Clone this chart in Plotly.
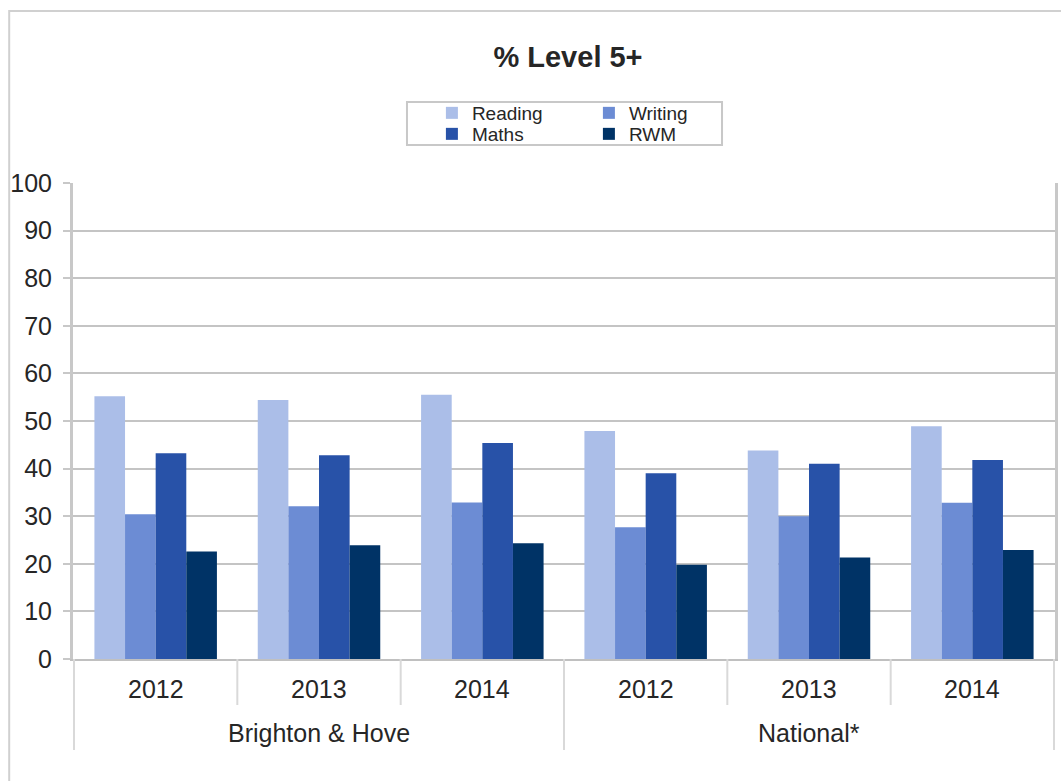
import plotly.graph_objects as go

groups = ["Brighton & Hove"] * 3 + ["National*"] * 3
years = ["2012", "2013", "2014", "2012", "2013", "2014"]

reading = [55.2, 54.4, 55.5, 47.9, 43.8, 48.9]
writing = [30.4, 32.1, 32.9, 27.7, 30.0, 32.8]
maths = [43.2, 42.8, 45.4, 39.0, 41.0, 41.8]
rwm = [22.6, 23.9, 24.3, 19.8, 21.3, 22.9]

series = [
    ("Reading", reading, "#abbee8", "legend"),
    ("Writing", writing, "#6c8cd4", "legend"),
    ("Maths", maths, "#2852a8", "legend2"),
    ("RWM", rwm, "#003366", "legend2"),
]

FONT = "Liberation Sans, Arial, sans-serif"
TXT = "#262626"
W, H = 1061, 781
L, R, T, B = 73, 3, 183, 122
pw = W - L - R
ph = H - T - B

def px(x):
    return (x - L) / pw

def py(y):
    return (H - B - y) / ph

fig = go.Figure()
for name, vals, col, lg in series:
    fig.add_trace(go.Bar(
        x=[groups, years], y=vals, name=name,
        marker=dict(color=col, line=dict(width=0)),
        legend=lg,
    ))

shapes = []
# outer chart border
shapes.append(dict(type="rect", xref="paper", yref="paper",
                   x0=px(9), x1=px(1075), y0=py(795), y1=py(11),
                   line=dict(color="#d0d0d0", width=2), layer="below"))
# legend box
shapes.append(dict(type="rect", xref="paper", yref="paper",
                   x0=px(408), x1=px(724), y0=py(145), y1=py(102),
                   line=dict(color="#c8c8c8", width=2), fillcolor="white"))

annotations = []
n = len(years)
# year labels and dividers between years
for i, yr in enumerate(years):
    annotations.append(dict(text=yr, x=i, xref="x", y=py(689), yref="paper",
                            showarrow=False, xanchor="center", yanchor="middle",
                            font=dict(size=25, family=FONT, color=TXT)))
for i in range(n + 1):
    b = i - 0.5
    is_group_edge = i == 0 or i == n or groups[i] != groups[i - 1]
    shapes.append(dict(type="line", xref="x", yref="paper",
                       x0=b, x1=b, y0=0, y1=py(750 if is_group_edge else 705),
                       line=dict(color="#d9d9d9", width=2)))
# group labels
seen = []
for g in groups:
    if g not in seen:
        seen.append(g)
for g in seen:
    idx = [i for i, gg in enumerate(groups) if gg == g]
    annotations.append(dict(text=g, x=sum(idx) / len(idx), xref="x",
                            y=py(733), yref="paper", showarrow=False,
                            xanchor="center", yanchor="middle",
                            font=dict(size=25, family=FONT, color=TXT)))

legend_common = dict(orientation="h", x=px(433), xanchor="left",
                     yanchor="middle", entrywidth=112,
                     entrywidthmode="pixels", bgcolor="rgba(0,0,0,0)",
                     font=dict(size=19, family=FONT, color=TXT),
                     itemclick=False, tracegroupgap=0)

fig.update_layout(
    width=W, height=H,
    margin=dict(l=L, r=R, t=T, b=B),
    paper_bgcolor="white", plot_bgcolor="white",
    barmode="group", bargap=0.25, bargroupgap=0,
    font=dict(family=FONT, color=TXT),
    title=dict(text="<b>% Level 5+</b>", x=568 / W, xanchor="center",
               y=1 - 57 / H, yanchor="middle",
               font=dict(size=29, family=FONT, color=TXT)),
    legend=dict(legend_common, y=py(113)),
    legend2=dict(legend_common, y=py(134)),
    shapes=shapes,
    annotations=annotations,
    xaxis=dict(type="multicategory", showline=True, linecolor="#c0c0c0",
               linewidth=2, showgrid=False, showdividers=False,
               showticklabels=False, ticks=""),
    yaxis=dict(range=[0, 100], dtick=10, showgrid=True,
               gridcolor="#c4c4c4", gridwidth=2, showline=True,
               linecolor="#c8c8c8", linewidth=3, mirror=True,
               ticks="outside", ticklen=7, tickcolor="#c8c8c8", tickwidth=2,
               ticklabelstandoff=6,
               tickfont=dict(size=25, family=FONT, color=TXT),
               zeroline=False),
)

fig.write_html("out.html",
               config={"displayModeBar": False},
               post_script="document.body.style.margin='0px';"
                           "document.body.style.overflow='hidden';")
